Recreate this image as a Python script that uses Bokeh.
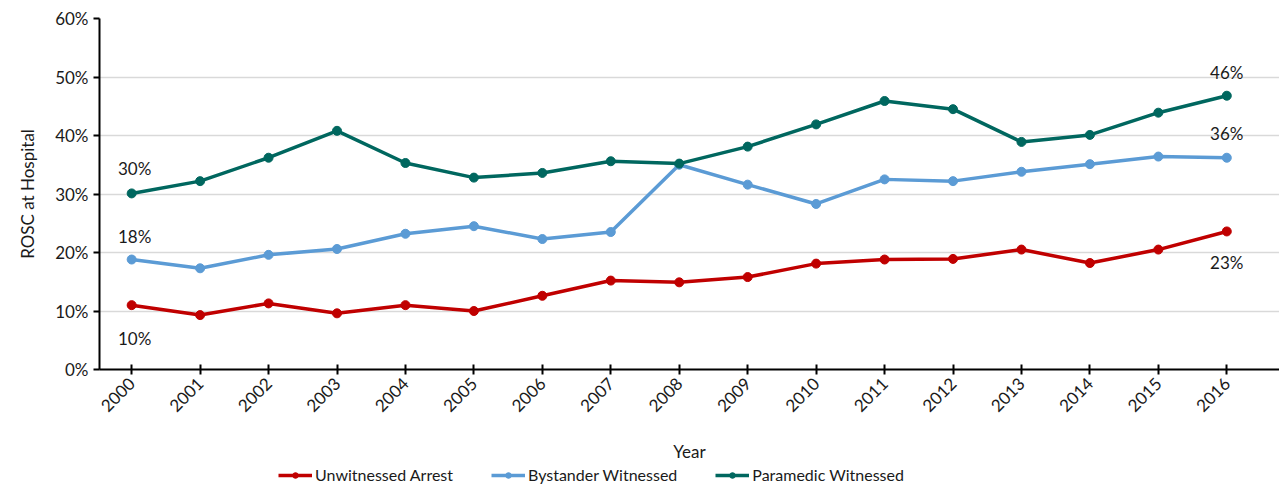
from bokeh.plotting import figure
from bokeh.layouts import column
from bokeh.models import (Range1d, FixedTicker, PrintfTickFormatter, Legend, LegendItem,
                          ColumnDataSource)
from bokeh.core.properties import value
from bokeh.embed import file_html
from bokeh.resources import INLINE

years = [2000, 2001, 2002, 2003, 2004, 2005, 2006, 2007, 2008,
         2009, 2010, 2011, 2012, 2013, 2014, 2015, 2016]
unwitnessed = [11.0, 9.3, 11.3, 9.6, 11.0, 10.0, 12.6, 15.2, 14.9,
               15.8, 18.1, 18.8, 18.9, 20.5, 18.2, 20.5, 23.6]
bystander = [18.8, 17.3, 19.6, 20.6, 23.2, 24.5, 22.3, 23.5, 35.0,
             31.6, 28.3, 32.5, 32.2, 33.8, 35.1, 36.4, 36.2]
paramedic = [30.1, 32.2, 36.2, 40.8, 35.3, 32.8, 33.6, 35.6, 35.2,
             38.1, 41.9, 45.9, 44.5, 38.9, 40.1, 43.9, 46.8]
series_names = ["Unwitnessed Arrest", "Bystander Witnessed", "Paramedic Witnessed"]
colors = ["#C00000", "#5B9BD5", "#00675F"]
start_labels = ["10%", "18%", "30%"]
end_labels = ["23%", "36%", "46%"]
y_ticks = [0, 10, 20, 30, 40, 50, 60]

FONT = "Lato"
TXT = "#1a1a1a"

p = figure(frame_width=1180, frame_height=351, output_backend="svg", toolbar_location=None,
           x_range=Range1d(1999.53, 2016.77), y_range=Range1d(0, 60),
           min_border_left=99, min_border_right=0, min_border_top=18,
           min_border_bottom=90)
p.outline_line_color = None
p.background_fill_color = "white"

p.xgrid.grid_line_color = None
p.ygrid.grid_line_color = "#D9D9D9"
p.ygrid.grid_line_width = 1.5

p.yaxis.ticker = FixedTicker(ticks=y_ticks)
p.yaxis.formatter = PrintfTickFormatter(format="%d%%")
p.xaxis.ticker = FixedTicker(ticks=years)
p.xaxis.major_label_orientation = 0.785398

for ax in (p.xaxis, p.yaxis):
    ax.axis_line_color = "black"
    ax.axis_line_width = 2
    ax.major_tick_line_color = "black"
    ax.major_tick_line_width = 2
    ax.minor_tick_line_color = None
    ax.major_label_text_font = FONT
    ax.major_label_text_font_size = "17px"
    ax.major_label_text_color = TXT
    ax.axis_label_text_font = FONT
    ax.axis_label_text_font_size = "17px"
    ax.axis_label_text_font_style = "normal"
    ax.axis_label_text_color = TXT

p.yaxis.major_tick_in = 0
p.yaxis.major_tick_out = 6
p.yaxis.major_label_standoff = 5
p.yaxis.axis_label = "ROSC at Hospital"
p.yaxis.axis_label_standoff = 14

p.xaxis.major_tick_in = 5
p.xaxis.major_tick_out = 5
p.xaxis.major_label_standoff = 6
p.xaxis.axis_label = "Year"
p.xaxis.axis_label_standoff = 20

all_series = [unwitnessed, bystander, paramedic]
for vals, col in zip(all_series, colors):
    src = ColumnDataSource(dict(x=years, y=vals))
    p.line("x", "y", source=src, line_color=col, line_width=3.5)
    p.scatter("x", "y", source=src, size=9, fill_color=col, line_color=col)

start_offsets = [33, -23, -25]
end_offsets = [31, -24, -23]
for vals, lab, off in zip(all_series, start_labels, start_offsets):
    p.text(x=[years[0]], y=[vals[0]], text=[lab], x_offset=3, y_offset=off,
           text_align="center", text_baseline="middle", text_font=value(FONT),
           text_font_size="17px", text_color=TXT)
for vals, lab, off in zip(all_series, end_labels, end_offsets):
    p.text(x=[years[-1]], y=[vals[-1]], text=[lab], x_offset=0, y_offset=off,
           text_align="center", text_baseline="middle", text_font=value(FONT),
           text_font_size="17px", text_color=TXT)

# legend strip: same series drawn outside its view, only the legend shows
lg = figure(width=1279, height=26, output_backend="svg", toolbar_location=None,
            x_range=Range1d(0, 1), y_range=Range1d(0, 1),
            min_border=0, x_axis_location=None, y_axis_location=None)
lg.outline_line_color = None
lg.grid.visible = False
items = []
for name, vals, col in zip(series_names, all_series, colors):
    src = ColumnDataSource(dict(x=years, y=vals))
    l = lg.line("x", "y", source=src, line_color=col, line_width=3.5)
    s = lg.scatter("x", "y", source=src, size=9, fill_color=col, line_color=col)
    items.append(LegendItem(label=name, renderers=[l, s]))

legend = Legend(items=items, orientation="horizontal", location=(179, 6),
                label_text_font=FONT, label_text_font_size="16px",
                label_text_color=TXT, glyph_width=34, glyph_height=14,
                label_standoff=3, spacing=38, padding=0, margin=0,
                label_height=14,
                border_line_color=None, background_fill_alpha=0)
lg.add_layout(legend)

layout = column(p, lg, spacing=0)
open("out.html", "w").write(file_html(layout, INLINE))
